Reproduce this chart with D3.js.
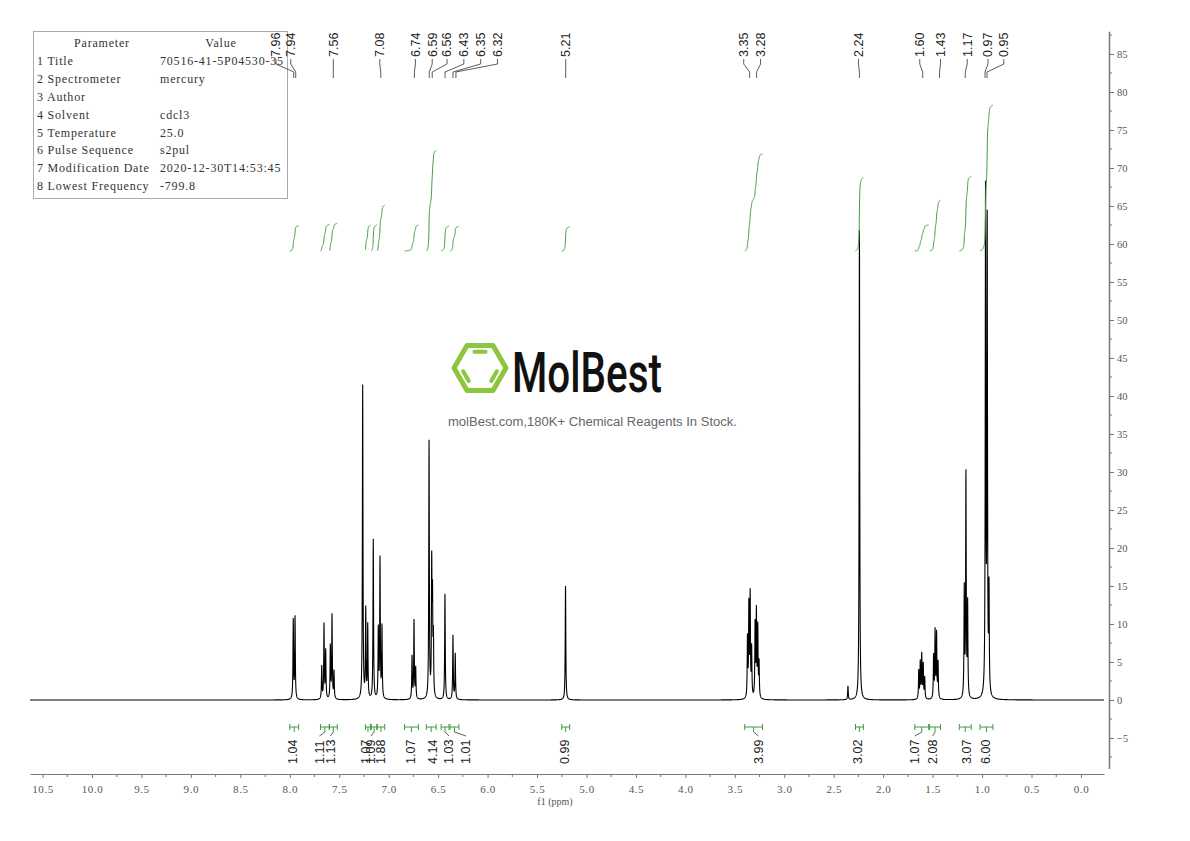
<!DOCTYPE html>
<html>
<head>
<meta charset="utf-8">
<script src="https://cdn.jsdelivr.net/npm/d3@7"></script>
<style>
  body { margin: 0; background: #fff; }
  svg { display: block; }
</style>
</head>
<body>
<div id="chart"></div>
<script>
// peaks: shift (ppm) and height (intensity units of the right axis)
const peakPpm = [7.965, 7.947,
    7.677, 7.654, 7.637, 7.590, 7.573, 7.553,
    7.263, 7.232, 7.212, 7.156, 7.105, 7.088, 7.068,
    6.764, 6.744, 6.727,
    6.592, 6.565, 6.557, 6.548,
    6.431, 6.350, 6.327,
    5.212,
    3.372, 3.358, 3.345, 3.330, 3.295, 3.282, 3.268, 3.255,
    2.356, 2.240,
    1.640, 1.625, 1.610, 1.595, 1.580,
    1.490, 1.475, 1.460, 1.445,
    1.180, 1.163, 1.146,
    0.965, 0.948, 0.930];
const peakHeight = [10.4, 10.8,
    4.3, 9.8, 6.3, 6.9, 11.0, 3.6,
    41.3, 11.6, 9.6, 21.0, 9.0, 18.3, 9.4,
    5.6, 10.3, 4.0,
    33.8, 17.0, 12.0, 7.5,
    13.9, 8.4, 6.0,
    15.0,
    7.8, 12.0, 13.4, 6.4, 9.6, 11.2, 9.2, 4.6,
    1.8, 61.8,
    3.7, 4.8, 5.8, 4.5, 2.8,
    5.6, 8.8, 8.5, 4.7,
    14.2, 29.3, 12.2,
    65.8, 61.5, 13.5];
const lineHalfWidth = 0.0034;

// picked peak labels
const peakLabels = ["7.96", "7.94", "7.56", "7.08", "6.74", "6.59", "6.56", "6.43", "6.35", "6.32",
    "5.21", "3.35", "3.28", "2.24", "1.60", "1.43", "1.17", "0.97", "0.95"];
const peakLabelAt = [8.14, 7.99, 7.56, 7.09, 6.73, 6.56, 6.41, 6.24, 6.07, 5.90,
    5.21, 3.41, 3.24, 2.25, 1.63, 1.42, 1.15, 0.94, 0.78];

// integrals: range (ppm) and value
const integralFrom = [8.00, 7.69, 7.60, 7.235, 7.175, 7.115, 6.84, 6.62, 6.47, 6.38, 5.25, 3.40, 2.28, 1.68, 1.53, 1.23, 1.02];
const integralTo = [7.91, 7.60, 7.52, 7.185, 7.12, 7.04, 6.70, 6.52, 6.39, 6.29, 5.17, 3.22, 2.20, 1.54, 1.42, 1.11, 0.89];
const integralValues = [1.04, 1.11, 1.13, 1.07, 1.09, 1.88, 1.07, 4.14, 1.03, 1.01, 0.99, 3.99, 3.02, 1.07, 2.08, 3.07, 6.00];
const integralLabelAt = [7.97, 7.70, 7.59, 7.23, 7.18, 7.08, 6.78, 6.56, 6.39, 6.22, 5.22, 3.26, 2.26, 1.68, 1.50, 1.16, 0.96];

const xTicks = d3.range(0, 10.51, 0.5);
const yTicks = d3.range(-5, 86, 5);

const paramNames = ["1 Title", "2 Spectrometer", "3 Author", "4 Solvent", "5 Temperature",
    "6 Pulse Sequence", "7 Modification Date", "8 Lowest Frequency"];
const paramValues = ["70516-41-5P04530-35", "mercury", "", "cdcl3", "25.0", "s2pul",
    "2020-12-30T14:53:45", "-799.8"];

const W = 1190, H = 841;
const svg = d3.select("#chart").append("svg").attr("width", W).attr("height", H);

const x = d3.scaleLinear().domain([10.627, -0.233]).range([30, 1104]);
const y = d3.scaleLinear().domain([-9, 88]).range([768.4, 31.2]);

// build the spectrum as a sum of Lorentzian lines
const step = 0.001;
const nPts = Math.round((10.627 + 0.233) / step);
const spectrum = d3.range(nPts + 1).map(function(i) {
    const p = 10.627 - i * step;
    let s = 0;
    for (let k = 0; k < peakPpm.length; k++) {
        const u = (p - peakPpm[k]) / lineHalfWidth;
        s += peakHeight[k] / (1 + u * u);
    }
    return [p, s];
});

// parameter table
const table = svg.append("g").style("font-family", "'Liberation Serif', serif").style("font-size", "12px")
    .style("letter-spacing", "0.8px").attr("fill", "#333");
table.append("rect").attr("x", 33.5).attr("y", 31.5).attr("width", 254).attr("height", 167)
    .attr("fill", "#fff").attr("stroke", "#aaa");
table.append("text").attr("x", 102).attr("y", 43).attr("dy", "0.35em").attr("text-anchor", "middle").text("Parameter");
table.append("text").attr("x", 221).attr("y", 43).attr("dy", "0.35em").attr("text-anchor", "middle").text("Value");
paramNames.forEach(function(name, i) {
    const ry = 61 + i * 17.85;
    table.append("text").attr("x", 37).attr("y", ry).attr("dy", "0.35em").text(name);
    table.append("text").attr("x", 160).attr("y", ry).attr("dy", "0.35em").text(paramValues[i]);
});

// watermark logo
const logo = svg.append("g");
const hexR = 26, hcx = 480, hcy = 368;
const hexPts = d3.range(6).map(function(i) {
    const a = Math.PI / 3 * i;
    return [hcx + hexR * Math.cos(a), hcy + hexR * Math.sin(a)];
});
logo.append("polygon").attr("points", hexPts.map(function(p) { return p.join(","); }).join(" "))
    .attr("fill", "none").attr("stroke", "#8cc63f").attr("stroke-width", 5).attr("stroke-linejoin", "round");
// inner double bond strokes: top, lower-left, lower-right
[[4, 5], [2, 3], [0, 1]].forEach(function(e) {
    const a = hexPts[e[0]], b = hexPts[e[1]];
    const f = 0.72, sh = 0.2;
    const p1 = [hcx + (a[0] - hcx) * f, hcy + (a[1] - hcy) * f];
    const p2 = [hcx + (b[0] - hcx) * f, hcy + (b[1] - hcy) * f];
    const q1 = [p1[0] + (p2[0] - p1[0]) * sh, p1[1] + (p2[1] - p1[1]) * sh];
    const q2 = [p2[0] + (p1[0] - p2[0]) * sh, p2[1] + (p1[1] - p2[1]) * sh];
    logo.append("line").attr("x1", q1[0]).attr("y1", q1[1]).attr("x2", q2[0]).attr("y2", q2[1])
        .attr("stroke", "#8cc63f").attr("stroke-width", 4).attr("stroke-linecap", "round");
});
logo.append("text").attr("x", 512).attr("y", 392).attr("font-family", "Roboto, sans-serif")
    .attr("font-size", 55).attr("font-weight", 500).attr("fill", "#111")
    .attr("textLength", 150).attr("lengthAdjust", "spacingAndGlyphs")
    .text("MolBest");
logo.append("text").attr("x", 448).attr("y", 425.5).attr("font-family", "'Liberation Sans', Arial, sans-serif")
    .attr("font-size", 12.5).attr("fill", "#666").attr("textLength", 289).attr("lengthAdjust", "spacingAndGlyphs")
    .text("molBest.com,180K+ Chemical Reagents In Stock.");

// spectrum line
svg.append("path")
    .datum(spectrum)
    .attr("fill", "none")
    .attr("stroke", "#000")
    .attr("stroke-width", 1.1)
    .attr("d", d3.line().x(function(d) { return x(d[0]); }).y(function(d) { return y(d[1]); }));

// integral curves
const integBase = 251, pxPerUnit = 24.3, green = "#3f9c3f";
integralValues.forEach(function(v, i) {
    const seg = spectrum.filter(function(d) { return d[0] <= integralFrom[i] && d[0] >= integralTo[i]; });
    let cum = 0;
    const c = seg.map(function(d) { cum += d[1]; return [d[0], cum]; });
    const total = cum;
    svg.append("path")
        .datum(c)
        .attr("fill", "none")
        .attr("stroke", green)
        .attr("stroke-width", 1)
        .attr("d", d3.line().x(function(d) { return x(d[0]); })
            .y(function(d) { return integBase - d[1] / total * v * pxPerUnit; }));

    // bracket under the baseline
    const x1 = x(integralFrom[i]), x2 = x(integralTo[i]), xm = (x1 + x2) / 2;
    const by = 727;
    svg.append("path")
        .attr("d", "M" + x1 + "," + (by - 3) + "V" + (by + 3) + "M" + x1 + "," + by + "H" + x2 +
            "M" + x2 + "," + (by - 3) + "V" + (by + 3) + "M" + xm + "," + by + "V" + (by + 5))
        .attr("fill", "none").attr("stroke", green).attr("stroke-width", 1);

    const lx = x(integralLabelAt[i]);
    if (Math.abs(lx - xm) > 2) {
        svg.append("path").attr("d", "M" + xm + "," + (by + 5) + "L" + lx + "," + (by + 9))
            .attr("fill", "none").attr("stroke", "#333").attr("stroke-width", 0.8);
    }
    svg.append("text")
        .attr("transform", "translate(" + lx + ",764) rotate(-90)")
        .attr("dy", "0.35em")
        .attr("font-family", "'Liberation Sans', Arial, sans-serif")
        .attr("font-size", 12.5)
        .attr("fill", "#222")
        .text(v.toFixed(2));
});

// peak labels with leader lines
peakLabels.forEach(function(t, i) {
    const px = x(+t), lx = x(peakLabelAt[i]);
    svg.append("path")
        .attr("d", "M" + lx + ",59V64L" + px + ",72V78")
        .attr("fill", "none").attr("stroke", "#333").attr("stroke-width", 0.8);
    svg.append("text")
        .attr("transform", "translate(" + lx + ",57) rotate(-90)")
        .attr("dy", "0.35em")
        .attr("font-family", "'Liberation Sans', Arial, sans-serif")
        .attr("font-size", 12.5)
        .attr("fill", "#222")
        .text(t);
});

// bottom axis
const axisColor = "#777", textColor = "#555";
const gx = svg.append("g").attr("transform", "translate(0,774)")
    .call(d3.axisBottom(x).tickValues(xTicks).tickFormat(d3.format(".1f")).tickSize(4).tickSizeOuter(0).tickPadding(7));
gx.append("g").selectAll("line").data(d3.range(0.25, 10.6, 0.5)).enter().append("line")
    .attr("x1", function(d) { return x(d); }).attr("x2", function(d) { return x(d); })
    .attr("y1", 0).attr("y2", 3).attr("stroke", axisColor);
gx.select(".domain").attr("stroke", axisColor);
gx.selectAll(".tick line").attr("stroke", axisColor);
gx.selectAll(".tick text").attr("fill", textColor)
    .style("font-family", "'Liberation Serif', serif").style("font-size", "11px").style("letter-spacing", "0.6px");
svg.append("text").attr("x", 555).attr("y", 805).attr("text-anchor", "middle")
    .style("font-family", "'Liberation Serif', serif").style("font-size", "10px").attr("fill", textColor)
    .text("f1 (ppm)");

// right axis
const gy = svg.append("g").attr("transform", "translate(1109,0)")
    .call(d3.axisRight(y).tickValues(yTicks).tickFormat(d3.format("d")).tickSize(5).tickSizeOuter(0).tickPadding(3));
gy.append("g").selectAll("line").data(d3.range(-7.5, 88, 5)).enter().append("line")
    .attr("y1", function(d) { return y(d); }).attr("y2", function(d) { return y(d); })
    .attr("x1", 0).attr("x2", 3).attr("stroke", axisColor);
gy.select(".domain").attr("stroke", axisColor).attr("stroke-width", 1.5);
gy.selectAll(".tick line").attr("stroke", axisColor);
gy.selectAll(".tick text").attr("fill", textColor)
    .style("font-family", "'Liberation Serif', serif").style("font-size", "10.5px");
</script>
</body>
</html>
